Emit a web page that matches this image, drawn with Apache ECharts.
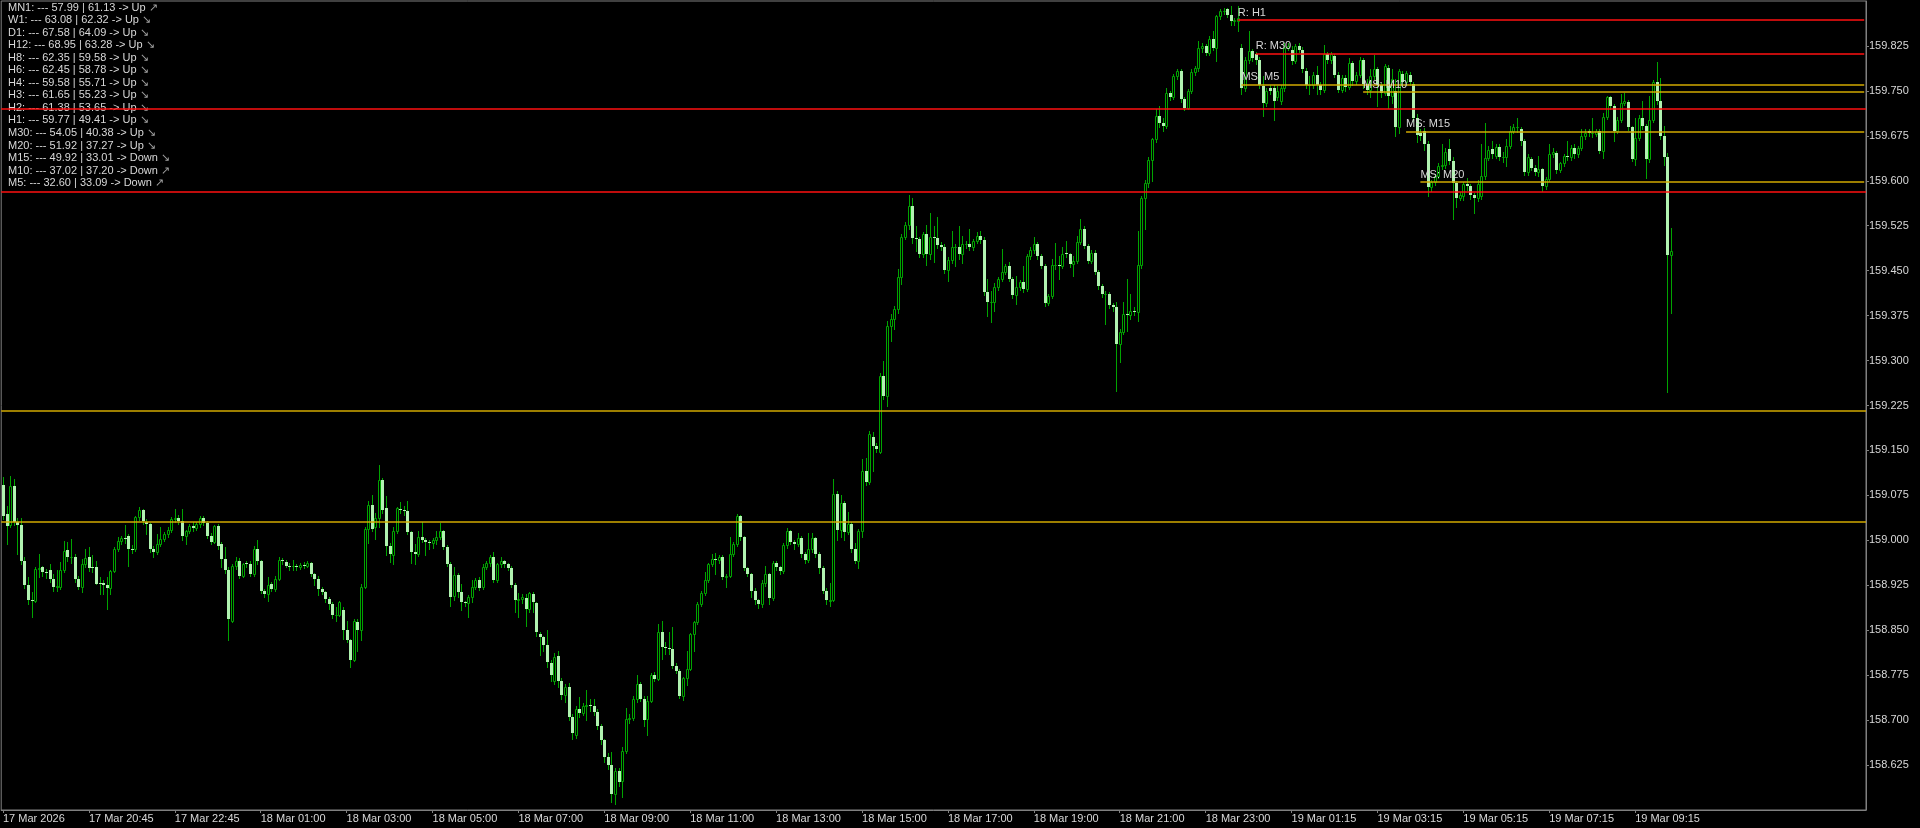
<!DOCTYPE html>
<html><head><meta charset="utf-8">
<script src="https://cdn.jsdelivr.net/npm/echarts@6/dist/echarts.min.js"></script>
<style>html,body{margin:0;padding:0;background:#000;overflow:hidden}#c{width:1920px;height:828px}</style>
</head><body><div id="c"></div>
<script>
// ---------- data ----------
const tickLabels = ['17 Mar 2026','17 Mar 20:45','17 Mar 22:45','18 Mar 01:00','18 Mar 03:00','18 Mar 05:00','18 Mar 07:00','18 Mar 09:00','18 Mar 11:00','18 Mar 13:00','18 Mar 15:00','18 Mar 17:00','18 Mar 19:00','18 Mar 21:00','18 Mar 23:00','19 Mar 01:15','19 Mar 03:15','19 Mar 05:15','19 Mar 07:15','19 Mar 09:15'];
const tickBars = [0,24,48,72,96,120,144,168,192,216,240,264,288,312,336,360,384,408,432,456];

const indicatorLines = [
  ['MN1: --- 57.99 | 61.13 -> Up','↗'],
  ['W1: --- 63.08 | 62.32 -> Up','↘'],
  ['D1: --- 67.58 | 64.09 -> Up','↘'],
  ['H12: --- 68.95 | 63.28 -> Up','↘'],
  ['H8: --- 62.35 | 59.58 -> Up','↘'],
  ['H6: --- 62.45 | 58.78 -> Up','↘'],
  ['H4: --- 59.58 | 55.71 -> Up','↘'],
  ['H3: --- 61.65 | 55.23 -> Up','↘'],
  ['H2: --- 61.38 | 53.65 -> Up','↘'],
  ['H1: --- 59.77 | 49.41 -> Up','↘'],
  ['M30: --- 54.05 | 40.38 -> Up','↘'],
  ['M20: --- 51.92 | 37.27 -> Up','↘'],
  ['M15: --- 49.92 | 33.01 -> Down','↘'],
  ['M10: --- 37.02 | 37.20 -> Down','↗'],
  ['M5: --- 32.60 | 33.09 -> Down','↗']
];

const redLevels = [159.721, 159.581];
const goldLevels = [159.217, 159.031];
const tagNames = ['R: H1','R: M30','MS: M5','MS: M10','MS: M15','MS: M20'];
const tagPrices = [159.868, 159.8125, 159.761, 159.748, 159.6825, 159.598];
const tagStartBars = [345, 350, 346, 380, 392, 396];

// candles: [open, close, low, high]
const candles = [
[159.093,159.041,159.035,159.105],[159.044,159.024,158.994,159.058],[159.025,159.091,159.022,159.108],[159.091,159.030,159.025,159.102],[159.030,159.025,158.977,159.038],
[159.025,158.966,158.960,159.038],[158.966,158.925,158.920,158.972],[158.925,158.900,158.894,158.939],[158.900,158.899,158.872,158.913],[158.899,158.952,158.897,158.955],
[158.952,158.953,158.939,158.977],[158.955,158.947,158.940,158.958],[158.947,158.945,158.937,158.952],[158.950,158.935,158.930,158.961],[158.935,158.922,158.916,158.944],
[158.922,158.923,158.916,158.950],[158.922,158.950,158.918,158.964],[158.950,158.983,158.947,158.999],[158.984,158.972,158.966,158.997],[158.972,158.973,158.962,159.002],
[158.972,158.936,158.930,158.977],[158.936,158.922,158.918,158.940],[158.922,158.961,158.914,158.969],[158.961,158.970,158.955,158.986],[158.972,158.954,158.948,158.989],
[158.955,158.954,158.947,158.976],[158.955,158.927,158.927,158.966],[158.928,158.927,158.911,158.939],[158.928,158.925,158.910,158.934],[158.926,158.921,158.886,158.938],
[158.921,158.949,158.911,158.950],[158.949,158.986,158.947,158.989],[158.986,158.999,158.982,159.005],[158.999,159.004,158.994,159.008],[159.004,159.003,158.996,159.025],
[159.008,158.986,158.958,159.011],[158.986,158.985,158.979,158.992],[158.985,159.039,158.983,159.041],[159.039,159.050,159.034,159.055],[159.050,159.033,159.028,159.053],
[159.030,159.027,159.011,159.036],[159.027,158.986,158.980,159.029],[158.986,158.980,158.972,158.991],[158.981,158.994,158.977,159.011],[158.994,159.002,158.990,159.022],
[159.002,159.010,158.999,159.014],[159.010,159.018,159.005,159.022],[159.018,159.036,159.014,159.039],[159.036,159.038,159.030,159.053],[159.038,159.033,159.027,159.043],
[159.032,159.008,159.000,159.053],[159.008,159.016,158.994,159.018],[159.016,159.024,159.012,159.028],[159.024,159.021,159.016,159.030],[159.021,159.027,159.018,159.031],
[159.027,159.038,159.022,159.041],[159.037,159.029,159.025,159.040],[159.029,159.008,159.004,159.033],[159.008,158.998,158.994,159.012],[158.998,159.024,158.995,159.025],
[159.024,158.990,158.985,159.027],[158.994,158.969,158.955,158.998],[158.969,158.950,158.945,158.989],[158.950,158.869,158.833,158.955],[158.866,158.958,158.864,158.961],
[158.958,158.966,158.952,158.972],[158.966,158.941,158.937,158.970],[158.941,158.961,158.938,158.963],[158.962,158.960,158.955,158.966],[158.960,158.943,158.940,158.966],
[158.943,158.985,158.940,158.990],[158.985,158.966,158.960,159.000],[158.966,158.916,158.912,158.968],[158.916,158.911,158.905,158.919],[158.911,158.925,158.899,158.938],
[158.927,158.919,158.915,158.930],[158.919,158.936,158.916,158.940],[158.936,158.967,158.933,158.972],[158.967,158.965,158.960,158.970],[158.964,158.958,158.955,158.968],
[158.958,158.957,158.950,158.962],[158.957,158.958,158.950,158.968],[158.958,158.955,158.951,158.961],[158.955,158.959,158.952,158.962],[158.959,158.958,158.954,158.964],
[158.958,158.962,158.955,158.966],[158.962,158.943,158.941,158.964],[158.943,158.935,158.925,158.946],[158.935,158.919,158.908,158.940],[158.919,158.914,158.910,158.922],
[158.914,158.902,158.897,158.916],[158.902,158.894,158.886,158.905],[158.894,158.875,158.871,158.897],[158.875,158.876,158.866,158.888],[158.876,158.897,158.873,158.899],
[158.883,158.850,158.836,158.889],[158.850,158.833,158.830,158.866],[158.833,158.801,158.789,158.836],[158.801,158.866,158.798,158.868],[158.864,158.851,158.816,158.869],
[158.851,158.922,158.833,158.927],[158.922,159.019,158.920,159.022],[159.019,159.059,158.995,159.066],[159.059,159.019,159.015,159.076],[159.023,159.037,159.002,159.045],
[159.037,159.101,159.022,159.125],[159.101,159.051,159.045,159.104],[159.054,158.991,158.975,159.074],[158.991,158.977,158.964,158.995],[158.975,159.015,158.961,159.022],
[159.015,159.054,159.012,159.056],[159.052,159.050,159.045,159.064],[159.050,159.049,159.043,159.058],[159.049,159.014,159.010,159.065],[159.014,158.980,158.962,159.016],
[158.981,158.977,158.961,158.994],[158.977,159.006,158.974,159.016],[159.006,159.001,158.998,159.030],[159.001,158.998,158.975,159.004],[158.998,158.995,158.986,159.001],
[158.995,159.000,158.987,159.004],[159.000,159.006,158.994,159.016],[159.006,159.015,159.002,159.029],[159.015,158.989,158.985,159.018],[158.989,158.961,158.957,158.992],
[158.961,158.905,158.891,158.964],[158.907,158.942,158.900,158.955],[158.942,158.914,158.905,158.945],[158.914,158.897,158.883,158.927],[158.897,158.895,158.890,158.899],
[158.895,158.905,158.872,158.908],[158.905,158.922,158.897,158.933],[158.922,158.934,158.918,158.937],[158.934,158.921,158.917,158.938],[158.922,158.955,158.919,158.960],
[158.955,158.963,158.952,158.966],[158.963,158.972,158.958,158.975],[158.972,158.934,158.930,158.980],[158.934,158.960,158.930,158.962],[158.960,158.966,158.955,158.972],
[158.965,158.960,158.955,158.968],[158.960,158.954,158.950,158.963],[158.954,158.925,158.922,158.957],[158.925,158.900,158.880,158.928],[158.900,158.902,158.872,158.912],
[158.902,158.906,158.895,158.910],[158.904,158.886,158.857,158.911],[158.885,158.912,158.881,158.913],[158.911,158.897,158.880,158.913],[158.895,158.847,158.840,158.897],
[158.844,158.838,158.808,158.847],[158.838,158.825,158.815,158.840],[158.825,158.797,158.789,158.850],[158.795,158.775,158.765,158.800],[158.765,158.805,158.760,158.812],
[158.807,158.765,158.755,158.815],[158.765,158.742,158.735,158.770],[158.742,158.755,158.730,158.760],[158.755,158.705,158.700,158.762],[158.705,158.678,158.668,158.710],
[158.675,158.719,158.670,158.723],[158.719,158.712,158.705,158.738],[158.712,158.724,158.708,158.729],[158.724,158.725,158.700,158.750],[158.725,158.724,158.715,158.735],
[158.724,158.714,158.708,158.735],[158.714,158.691,158.685,158.718],[158.691,158.666,158.660,158.694],[158.666,158.639,158.630,158.668],[158.639,158.625,158.618,158.645],
[158.625,158.577,158.564,158.647],[158.577,158.615,158.560,158.620],[158.615,158.597,158.590,158.620],[158.598,158.648,158.572,158.655],[158.648,158.702,158.645,158.720],
[158.702,158.703,158.695,158.710],[158.703,158.736,158.700,158.740],[158.736,158.761,158.730,158.775],[158.761,158.736,158.732,158.764],[158.736,158.700,158.690,158.740],
[158.702,158.732,158.675,158.741],[158.732,158.775,158.730,158.778],[158.775,158.769,158.765,158.780],[158.769,158.847,158.767,158.861],[158.847,158.822,158.802,158.866],
[158.822,158.820,158.810,158.830],[158.820,158.819,158.810,158.847],[158.819,158.791,158.787,158.855],[158.791,158.782,158.778,158.795],[158.782,158.741,158.737,158.785],
[158.741,158.770,158.733,158.772],[158.770,158.786,158.758,158.816],[158.786,158.843,158.783,158.845],[158.843,158.864,158.816,158.866],[158.864,158.894,158.860,158.897],
[158.894,158.912,158.890,158.915],[158.912,158.933,158.908,158.947],[158.933,158.961,158.930,158.963],[158.961,158.969,158.958,158.977],[158.969,158.967,158.944,158.979],
[158.967,158.972,158.962,158.976],[158.972,158.939,158.935,158.975],[158.939,158.941,158.922,158.944],[158.941,158.977,158.938,159.005],[158.977,158.994,158.974,158.997],
[158.994,159.041,158.990,159.044],[159.041,159.005,159.000,159.043],[159.005,158.954,158.950,159.008],[158.954,158.944,158.940,158.956],[158.944,158.916,158.905,158.946],
[158.916,158.900,158.893,158.920],[158.900,158.893,158.887,158.902],[158.893,158.928,158.888,158.934],[158.928,158.943,158.924,158.957],[158.943,158.903,158.893,158.945],
[158.903,158.962,158.900,158.965],[158.962,158.955,158.950,158.966],[158.955,158.948,158.943,158.958],[158.948,158.992,158.945,158.995],[158.992,159.016,158.988,159.020],
[159.016,158.998,158.994,159.018],[158.998,158.994,158.985,159.000],[158.994,159.004,158.990,159.012],[159.004,158.977,158.972,159.008],[158.977,158.968,158.962,158.980],
[158.968,158.985,158.964,159.013],[158.985,159.004,158.980,159.012],[159.004,158.977,158.972,159.006],[158.977,158.954,158.945,158.980],[158.954,158.916,158.912,158.958],
[158.916,158.900,158.893,158.920],[158.898,158.900,158.890,158.928],[158.900,159.077,158.898,159.102],[159.077,159.018,159.000,159.082],[159.018,159.062,159.005,159.075],
[159.062,159.014,159.000,159.066],[159.014,159.027,159.010,159.047],[159.027,158.985,158.980,159.030],[158.985,158.966,158.962,158.995],[158.966,159.016,158.953,159.019],
[159.016,159.116,159.005,159.135],[159.116,159.097,159.092,159.138],[159.097,159.177,159.094,159.182],[159.172,159.158,159.116,159.180],[159.158,159.152,159.148,159.162],
[159.148,159.275,159.145,159.280],[159.275,159.241,159.236,159.300],[159.241,159.358,159.225,159.366],[159.358,159.369,159.333,159.377],[159.369,159.386,159.352,159.391],
[159.386,159.439,159.380,159.452],[159.439,159.507,159.427,159.511],[159.507,159.527,159.503,159.531],[159.527,159.558,159.520,159.577],[159.558,159.505,159.497,159.572],
[159.505,159.503,159.483,159.525],[159.503,159.477,159.472,159.506],[159.477,159.511,159.473,159.515],[159.511,159.477,159.460,159.527],[159.477,159.507,159.470,159.547],
[159.507,159.505,159.464,159.525],[159.505,159.492,159.488,159.539],[159.492,159.490,159.484,159.498],[159.490,159.451,159.446,159.494],[159.451,159.468,159.433,159.472],
[159.468,159.489,159.463,159.516],[159.489,159.490,159.458,159.494],[159.490,159.477,159.470,159.525],[159.477,159.494,159.463,159.508],[159.494,159.494,159.488,159.500],
[159.494,159.489,159.484,159.519],[159.489,159.500,159.485,159.503],[159.500,159.508,159.496,159.514],[159.508,159.502,159.497,159.516],[159.502,159.414,159.410,159.506],
[159.414,159.397,159.375,159.436],[159.397,159.398,159.364,159.416],[159.398,159.422,159.383,159.430],[159.422,159.436,159.418,159.440],[159.436,159.448,159.432,159.486],
[159.448,159.457,159.444,159.461],[159.457,159.436,159.432,159.464],[159.436,159.409,159.405,159.440],[159.409,159.422,159.395,159.441],[159.422,159.431,159.418,159.435],
[159.431,159.419,159.414,159.458],[159.419,159.475,159.416,159.478],[159.475,159.484,159.470,159.489],[159.484,159.494,159.480,159.507],[159.494,159.475,159.470,159.498],
[159.475,159.458,159.454,159.478],[159.458,159.396,159.391,159.461],[159.396,159.407,159.392,159.411],[159.407,159.459,159.404,159.469],[159.459,159.459,159.452,159.497],
[159.459,159.458,159.436,159.475],[159.458,159.477,159.455,159.489],[159.480,159.477,159.472,159.500],[159.477,159.461,159.456,159.480],[159.461,159.466,159.441,159.475],
[159.466,159.498,159.462,159.508],[159.498,159.520,159.494,159.536],[159.520,159.491,159.487,159.524],[159.491,159.466,159.462,159.494],[159.466,159.480,159.462,159.484],
[159.480,159.448,159.444,159.484],[159.448,159.425,159.420,159.451],[159.425,159.411,159.406,159.428],[159.411,159.411,159.361,159.416],[159.411,159.392,159.388,159.414],
[159.392,159.389,159.382,159.396],[159.389,159.327,159.250,159.397],[159.327,159.348,159.297,159.352],[159.348,159.377,159.344,159.397],[159.377,159.376,159.350,159.436],
[159.376,159.383,159.370,159.411],[159.383,159.381,159.376,159.390],[159.381,159.459,159.366,159.516],[159.459,159.572,159.455,159.575],[159.572,159.597,159.519,159.602],
[159.597,159.635,159.590,159.640],[159.635,159.669,159.600,159.672],[159.669,159.708,159.665,159.720],[159.708,159.697,159.690,159.724],[159.697,159.691,159.683,159.705],
[159.691,159.747,159.688,159.755],[159.747,159.740,159.735,159.750],[159.740,159.775,159.737,159.778],[159.775,159.783,159.770,159.786],[159.783,159.737,159.732,159.786],
[159.737,159.722,159.718,159.740],[159.722,159.750,159.719,159.753],[159.750,159.781,159.746,159.786],[159.781,159.788,159.777,159.792],[159.788,159.822,159.784,159.833],
[159.822,159.825,159.815,159.830],[159.825,159.814,159.810,159.829],[159.814,159.836,159.810,159.841],[159.836,159.822,159.818,159.850],[159.822,159.875,159.800,159.877],
[159.875,159.883,159.870,159.886],[159.883,159.884,159.878,159.888],[159.886,159.877,159.873,159.889],[159.877,159.866,159.860,159.891],[159.866,159.868,159.860,159.872],
[159.866,159.872,159.850,159.891],[159.822,159.755,159.744,159.828],[159.755,159.802,159.750,159.806],[159.802,159.816,159.797,159.850],[159.816,159.805,159.800,159.820],
[159.811,159.802,159.795,159.815],[159.802,159.760,159.755,159.806],[159.758,159.730,159.708,159.775],[159.730,159.750,159.725,159.755],[159.755,159.750,159.745,159.760],
[159.755,159.733,159.702,159.760],[159.740,159.750,159.735,159.758],[159.733,159.755,159.728,159.760],[159.755,159.822,159.750,159.830],[159.822,159.825,159.818,159.830],
[159.819,159.800,159.795,159.825],[159.800,159.825,159.796,159.829],[159.825,159.819,159.815,159.830],[159.819,159.786,159.782,159.824],[159.784,159.759,159.755,159.788],
[159.759,159.760,159.744,159.775],[159.760,159.776,159.755,159.781],[159.776,159.759,159.745,159.791],[159.760,159.751,159.744,159.765],[159.751,159.811,159.748,159.827],
[159.811,159.801,159.797,159.815],[159.801,159.811,159.796,159.815],[159.808,159.777,159.773,159.812],[159.777,159.752,159.748,159.781],[159.752,159.772,159.748,159.776],
[159.772,159.757,159.750,159.776],[159.757,159.797,159.753,159.805],[159.797,159.766,159.760,159.800],[159.766,159.777,159.762,159.782],[159.777,159.802,159.773,159.806],
[159.802,159.761,159.755,159.805],[159.761,159.752,159.745,159.770],[159.752,159.775,159.740,159.786],[159.775,159.787,159.770,159.810],[159.786,159.759,159.725,159.790],
[159.759,159.747,159.740,159.763],[159.747,159.791,159.743,159.795],[159.789,159.741,159.722,159.793],[159.741,159.770,159.730,159.786],[159.750,159.689,159.675,159.770],
[159.689,159.783,159.680,159.787],[159.779,159.764,159.758,159.784],[159.764,159.780,159.760,159.784],[159.777,159.764,159.760,159.781],[159.761,159.705,159.700,159.765],
[159.705,159.677,159.665,159.712],[159.680,159.675,159.668,159.686],[159.683,159.661,159.652,159.688],[159.661,159.589,159.575,159.666],[159.589,159.598,159.583,159.602],
[159.598,159.608,159.593,159.612],[159.608,159.625,159.604,159.630],[159.625,159.626,159.620,159.661],[159.626,159.648,159.622,159.655],[159.653,159.633,159.628,159.669],
[159.633,159.597,159.536,159.640],[159.597,159.572,159.556,159.600],[159.572,159.576,159.568,159.582],[159.575,159.594,159.568,159.598],[159.594,159.591,159.585,159.605],
[159.591,159.576,159.570,159.594],[159.576,159.572,159.547,159.580],[159.572,159.594,159.566,159.602],[159.575,159.608,159.570,159.661],[159.608,159.638,159.603,159.697],
[159.638,159.652,159.634,159.658],[159.653,159.644,159.638,159.666],[159.642,159.657,159.638,159.662],[159.657,159.639,159.634,159.662],[159.639,159.640,159.632,159.648],
[159.640,159.658,159.625,159.669],[159.658,159.683,159.654,159.691],[159.683,159.689,159.679,159.694],[159.689,159.689,159.682,159.704],[159.686,159.666,159.660,159.690],
[159.666,159.614,159.610,159.670],[159.614,159.640,159.610,159.645],[159.636,159.622,159.618,159.640],[159.622,159.614,159.610,159.626],[159.614,159.619,159.608,159.641],
[159.619,159.591,159.583,159.622],[159.591,159.603,159.587,159.606],[159.603,159.644,159.600,159.661],[159.644,159.648,159.640,159.655],[159.647,159.618,159.613,159.650],
[159.618,159.629,159.614,159.632],[159.629,159.642,159.625,159.645],[159.642,159.639,159.634,159.666],[159.639,159.655,159.635,159.659],[159.655,159.644,159.638,159.661],
[159.644,159.655,159.640,159.658],[159.655,159.674,159.651,159.686],[159.674,159.680,159.670,159.687],[159.683,159.680,159.675,159.686],[159.680,159.680,159.673,159.704],
[159.678,159.683,159.674,159.687],[159.683,159.650,159.646,159.686],[159.650,159.707,159.638,159.713],[159.707,159.739,159.703,159.741],[159.739,159.725,159.720,159.742],
[159.725,159.683,159.666,159.728],[159.683,159.702,159.679,159.706],[159.702,159.729,159.698,159.744],[159.729,159.733,159.726,159.747],[159.731,159.689,159.685,159.735],
[159.689,159.637,159.633,159.692],[159.637,159.672,159.627,159.705],[159.672,159.705,159.668,159.709],[159.705,159.691,159.686,159.733],[159.691,159.636,159.605,159.695],
[159.636,159.702,159.632,159.741],[159.702,159.765,159.698,159.769],[159.765,159.733,159.728,159.798],[159.733,159.675,159.670,159.772],[159.675,159.640,159.627,159.691],
[159.640,159.476,159.247,159.647],[159.476,159.483,159.380,159.522]
];

// ---------- layout / style ----------
const SHIFT_SLOTS = 54;            // empty chart shift on the right
const yMin = 158.55, yMax = 159.90, yStep = 0.075;
const FONT = "'Liberation Sans', Arial, sans-serif";
const TXT = '#d8d8d8', AXIS = '#808080';
const RED = '#ff1010', GOLD = '#d2aa00';
const WICK = '#00a400', BEAR_FILL = '#b0f2b0', BULL_FILL = '#000000';

const slotCount = candles.length + SHIFT_SLOTS;
const tickSet = new Set(tickBars);
const categories = [];
for (let i = 0; i < slotCount; i++) {
  const k = tickBars.indexOf(i);
  categories.push(k >= 0 ? tickLabels[k] : String(i));
}
const seriesData = candles.map((c, i) => [i, c[0], c[1], c[2], c[3]]);

const chart = echarts.init(document.getElementById('c'), null, {renderer: 'canvas'});

const levelData = [];
redLevels.forEach(v => levelData.push({yAxis: v, lineStyle: {color: RED, width: 1.6, type: 'solid'}}));
goldLevels.forEach(v => levelData.push({yAxis: v, lineStyle: {color: GOLD, width: 1.6, type: 'solid'}}));
tagNames.forEach((name, k) => {
  const col = name.indexOf('R:') === 0 ? RED : GOLD;
  levelData.push([
    {coord: [tagStartBars[k], tagPrices[k]], name: name,
     lineStyle: {color: col, width: 1.6, type: 'solid'},
     label: {show: true, formatter: name, position: 'insideStartTop', distance: [0, 2],
             color: TXT, fontSize: 11, fontFamily: FONT}},
    {coord: [slotCount - 1, tagPrices[k]]}
  ]);
});

const graphics = indicatorLines.map((ln, i) => ({
  type: 'text', left: 8, top: 2 + i * 12.55, z: 1, silent: true,
  style: {text: ln[0] + ' {a|' + ln[1] + '}', fill: TXT, font: '11px ' + FONT,
          rich: {a: {fill: '#a0a0a0', fontSize: 11, fontFamily: FONT}}}
}));

chart.setOption({
  backgroundColor: '#000',
  animation: false,
  grid: {left: 1, right: 54, top: 1, bottom: 18, show: true, borderColor: AXIS, borderWidth: 1},
  xAxis: {
    type: 'category', data: categories, boundaryGap: true,
    axisLine: {show: true, lineStyle: {color: AXIS}},
    axisTick: {show: true, alignWithLabel: true, length: 3, interval: (i) => tickSet.has(i), lineStyle: {color: AXIS}},
    axisLabel: {show: true, interval: (i) => tickSet.has(i), align: 'left', margin: 3,
                color: TXT, fontSize: 11, fontFamily: FONT, hideOverlap: false},
    splitLine: {show: false}
  },
  yAxis: {
    type: 'value', position: 'right', min: yMin, max: yMax, interval: yStep, scale: true,
    axisLine: {show: true, lineStyle: {color: AXIS}},
    axisTick: {show: true, length: 3, lineStyle: {color: AXIS}},
    axisLabel: {show: true, margin: 3, color: TXT, fontSize: 11, fontFamily: FONT,
                showMinLabel: false, showMaxLabel: false, formatter: v => v.toFixed(3)},
    splitLine: {show: false}
  },
  graphic: graphics,
  series: [
    {
      type: 'custom', name: 'USDJPY', z: 2,
      encode: {x: 0, y: [1, 2, 3, 4]},
      data: seriesData,
      renderItem: function (params, api) {
        const i = api.value(0), o = api.value(1), c = api.value(2), l = api.value(3), h = api.value(4);
        const po = api.coord([i, o]), pc = api.coord([i, c]), pl = api.coord([i, l]), ph = api.coord([i, h]);
        const x = Math.round(po[0]) + 0.5;
        const top = Math.round(Math.min(po[1], pc[1]));
        const bot = Math.round(Math.max(po[1], pc[1]));
        const bull = c >= o;
        const children = [{
          type: 'line', shape: {x1: x, y1: Math.round(ph[1]), x2: x, y2: Math.round(pl[1]) + 1},
          style: {stroke: WICK, lineWidth: 1}
        }];
        if (bull) {
          children.push({type: 'rect', shape: {x: x - 1, y: top + 0.5, width: 2, height: Math.max(bot - top, 0)},
            style: {fill: BULL_FILL, stroke: WICK, lineWidth: 1}});
        } else {
          children.push({type: 'rect', shape: {x: x - 1.5, y: top, width: 3, height: Math.max(bot - top, 1)},
            style: {fill: BEAR_FILL}});
        }
        return {type: 'group', children: children};
      }
    },
    {
      type: 'line', name: 'levels', data: [], z: 3, silent: true,
      markLine: {symbol: 'none', silent: true, animation: false, precision: 4, data: levelData,
                 label: {show: false}}
    }
  ]
});
</script>
</body></html>
